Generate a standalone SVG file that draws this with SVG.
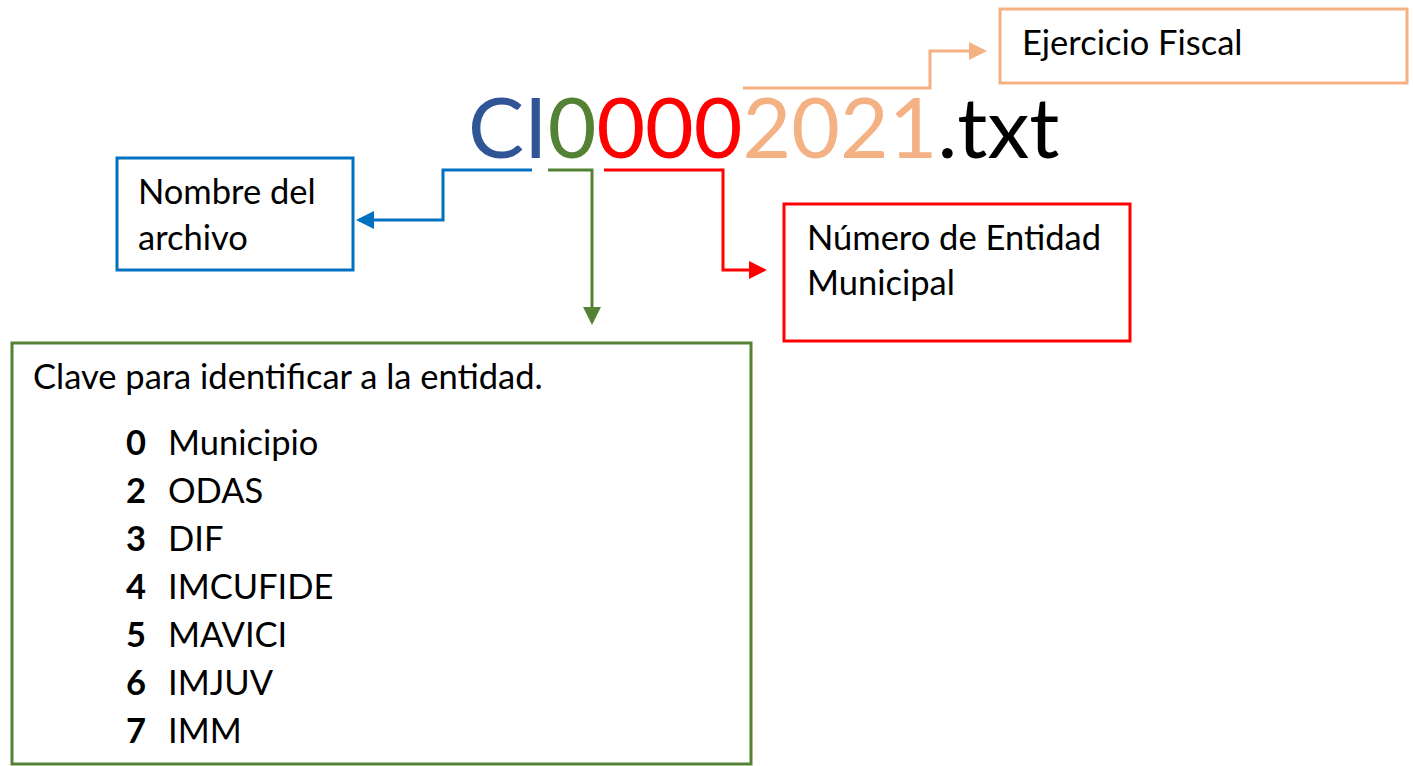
<svg xmlns="http://www.w3.org/2000/svg" width="1413" height="766" viewBox="0 0 1413 766">
<style>
text{font-family:Lato,"Carlito","Liberation Sans",sans-serif;fill:#000}
.lbl{font-size:34.5px}
.big{font-size:84px}
.box{fill:#fff;stroke-width:3}
.con{fill:none;stroke-width:3}
.b{font-weight:bold}
</style>
<defs>
<marker id="ab" markerWidth="6" markerHeight="6" refX="5" refY="3" orient="auto" markerUnits="strokeWidth"><path d="M0,0 L6,3 L0,6 z" fill="#0070C0"/></marker>
<marker id="ag" markerWidth="6" markerHeight="6" refX="5" refY="3" orient="auto" markerUnits="strokeWidth"><path d="M0,0 L6,3 L0,6 z" fill="#548235"/></marker>
<marker id="ar" markerWidth="6" markerHeight="6" refX="5" refY="3" orient="auto" markerUnits="strokeWidth"><path d="M0,0 L6,3 L0,6 z" fill="#FF0000"/></marker>
<marker id="ao" markerWidth="6" markerHeight="6" refX="5" refY="3" orient="auto" markerUnits="strokeWidth"><path d="M0,0 L6,3 L0,6 z" fill="#F4B183"/></marker>
</defs>
<g id="filename">
<text class="big" x="468" y="158"><tspan fill="#2F5597">CI</tspan><tspan fill="#548235">0</tspan><tspan fill="#FF0000">000</tspan><tspan fill="#F4B183">2021</tspan><tspan fill="#000">.txt</tspan></text>
</g>
<g id="connectors">
<path class="con" stroke="#F4B183" d="M743,88 H930 V51 H984" marker-end="url(#ao)"/>
<path class="con" stroke="#0070C0" d="M532,170 H443 V220 H359" marker-end="url(#ab)"/>
<path class="con" stroke="#548235" d="M548,170 H592 V322" marker-end="url(#ag)"/>
<path class="con" stroke="#FF0000" d="M604,170 H723 V270 H764" marker-end="url(#ar)"/>
</g>
<g id="ejercicio">
<rect class="box" stroke="#F4B183" x="1000" y="9" width="407" height="74"/>
<text class="lbl" x="1022" y="55">Ejercicio Fiscal</text>
</g>
<g id="nombre">
<rect class="box" stroke="#0070C0" x="117" y="158" width="236" height="112"/>
<text class="lbl" x="138" y="204">Nombre del</text>
<text class="lbl" x="138" y="250">archivo</text>
</g>
<g id="numero">
<rect class="box" stroke="#FF0000" x="784" y="204" width="346" height="137"/>
<text class="lbl" x="807" y="250">Número de Entidad</text>
<text class="lbl" x="807" y="295">Municipal</text>
</g>
<g id="clave">
<rect class="box" stroke="#548235" x="12" y="343" width="739" height="421"/>
<text class="lbl" x="33" y="389">Clave para identificar a la entidad.</text>
<text class="lbl b" x="126" y="455">0</text><text class="lbl" x="168" y="455">Municipio</text>
<text class="lbl b" x="126" y="503">2</text><text class="lbl" x="168" y="503">ODAS</text>
<text class="lbl b" x="126" y="551">3</text><text class="lbl" x="168" y="551">DIF</text>
<text class="lbl b" x="126" y="599">4</text><text class="lbl" x="168" y="599">IMCUFIDE</text>
<text class="lbl b" x="126" y="647">5</text><text class="lbl" x="168" y="647">MAVICI</text>
<text class="lbl b" x="126" y="695">6</text><text class="lbl" x="168" y="695">IMJUV</text>
<text class="lbl b" x="126" y="743">7</text><text class="lbl" x="168" y="743">IMM</text>
</g>
</svg>
